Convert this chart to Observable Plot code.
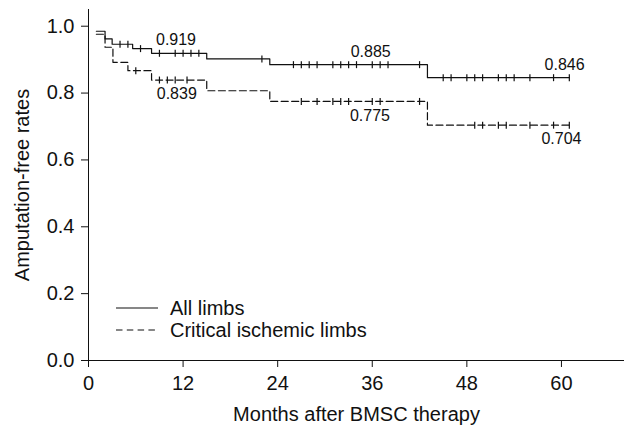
<!DOCTYPE html>
<html><head><meta charset="utf-8">
<script src="https://cdn.jsdelivr.net/npm/d3@7"></script>
<script src="https://cdn.jsdelivr.net/npm/@observablehq/plot@0.6"></script>
<style>
body{margin:0;background:#fff;}
#wrap{position:relative;width:634px;height:430px;font-family:"Liberation Sans",Arial,sans-serif;}
#legend{position:absolute;left:116px;top:297px;font-size:20px;color:#111;line-height:22px;}
.row{display:flex;align-items:center;height:22px;}
.row svg{margin-right:12px;display:block}
</style></head><body><div id="wrap"></div>
<script>
// All limbs (solid)
const allStepTimes = [1, 2.1, 3, 5.6, 8, 15, 23, 43];
const allStepValues = [0.985, 0.962, 0.946, 0.933, 0.919, 0.902, 0.885, 0.846];
const allEndTime = 61;
const allCensorTimes = [4, 5, 6.6, 9, 11, 12, 13, 14, 22, 26, 27, 28, 29, 31, 32, 33, 34, 36, 37, 38, 42, 45, 46, 48, 49, 50, 52, 53, 54, 56, 59, 61];
// Critical ischemic limbs (dashed)
const cliStepTimes = [1, 2.1, 3.1, 5, 8, 15, 23, 43];
const cliStepValues = [0.976, 0.937, 0.892, 0.867, 0.839, 0.807, 0.775, 0.704];
const cliEndTime = 61;
const cliCensorTimes = [6, 9, 10, 11, 12.5, 27, 29, 31, 32, 33, 36, 37, 42, 49, 50, 52, 53, 56, 59, 61];
// value annotations
const allLabelTimes = [11.1, 35.8, 60.4];
const allLabelTexts = ["0.919", "0.885", "0.846"];
const cliLabelTimes = [11.2, 35.7, 60.0];
const cliLabelTexts = ["0.839", "0.775", "0.704"];
// ticks
const xTicks = [0, 12, 24, 36, 48, 60];
const yTicks = [0, 0.2, 0.4, 0.6, 0.8, 1.0];
const seriesNames = ["All limbs", "Critical ischemic limbs"];

function stepLine(times, values, end) {
  const pts = times.map((t, i) => ({t, v: values[i]}));
  pts.push({t: end, v: values[values.length - 1]});
  return pts;
}
function censorPts(times, stepTimes, stepValues) {
  return times.map(t => ({t, v: stepValues[Math.max(0, d3.bisectRight(stepTimes, t) - 1)]}));
}
const vtick = {draw(ctx, size) { const h = Math.sqrt(size / Math.PI); ctx.moveTo(0, -h); ctx.lineTo(0, h); }};

const allLine = stepLine(allStepTimes, allStepValues, allEndTime);
const cliLine = stepLine(cliStepTimes, cliStepValues, cliEndTime);
const allCens = censorPts(allCensorTimes, allStepTimes, allStepValues);
const cliCens = censorPts(cliCensorTimes, cliStepTimes, cliStepValues);
const allLab = allLabelTimes.map((t, i) => ({t, v: +allLabelTexts[i], s: allLabelTexts[i]}));
const cliLab = cliLabelTimes.map((t, i) => ({t, v: +cliLabelTexts[i], s: cliLabelTexts[i]}));

const ink = "#111";
const plot = Plot.plot({
  width: 634, height: 430,
  marginLeft: 88, marginRight: 10, marginTop: 9, marginBottom: 70,
  style: {fontFamily: "'Liberation Sans', Arial, sans-serif", fontSize: "20px", color: ink, background: "white", overflow: "visible"},
  x: {domain: [0, 68]},
  y: {domain: [0, 1.05]},
  marks: [
    Plot.axisX({ticks: xTicks, tickSize: 7, tickPadding: 8, fontSize: 20, label: "Months after BMSC therapy", labelAnchor: "center", labelOffset: 60, labelArrow: "none"}),
    Plot.axisY({ticks: yTicks, tickSize: 7, tickPadding: 7, fontSize: 20, tickFormat: d3.format(".1f"), label: "Amputation-free rates", labelAnchor: "center", labelOffset: 74, labelArrow: "none"}),
    Plot.ruleX([0], {stroke: ink}),
    Plot.ruleY([0], {stroke: ink}),
    Plot.line(allLine, {x: "t", y: "v", curve: "step-after", stroke: ink, strokeWidth: 1.2}),
    Plot.line(cliLine, {x: "t", y: "v", curve: "step-after", stroke: ink, strokeWidth: 1.2, strokeDasharray: "7,3.5"}),
    Plot.dot(allCens, {x: "t", y: "v", symbol: vtick, r: 3.5, stroke: ink, fill: "none", strokeWidth: 1.2}),
    Plot.dot(cliCens, {x: "t", y: "v", symbol: vtick, r: 3.5, stroke: ink, fill: "none", strokeWidth: 1.2}),
    Plot.text(allLab, {x: "t", y: "v", text: "s", dy: -13, fontSize: 16, fill: ink, lineAnchor: "middle"}),
    Plot.text(cliLab, {x: "t", y: "v", text: "s", dy: 14, fontSize: 16, fill: ink, lineAnchor: "middle"})
  ]
});
const wrap = document.getElementById("wrap");
wrap.appendChild(plot);
const leg = document.createElement("div");
leg.id = "legend";
leg.innerHTML = seriesNames.map((n, i) =>
  `<div class="row"><svg width="42" height="10"><line x1="0" x2="42" y1="5" y2="5" stroke="${ink}" stroke-width="1.2" ${i ? 'stroke-dasharray="6.5,4.3"' : ''}/></svg><span>${n}</span></div>`).join("");
wrap.appendChild(leg);
</script></body></html>
